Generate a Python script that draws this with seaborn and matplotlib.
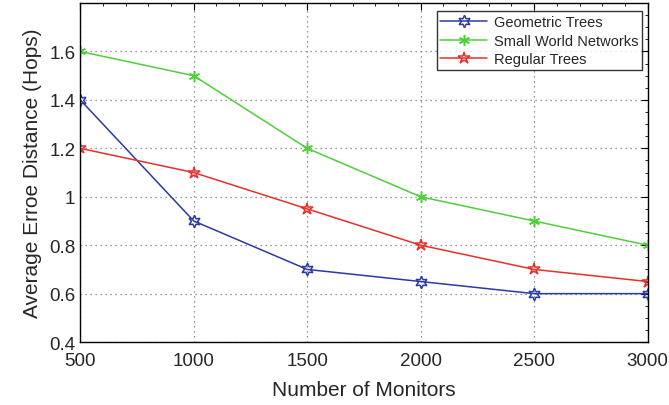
import matplotlib
matplotlib.use("Agg")
import matplotlib.pyplot as plt
import seaborn as sns
import pandas as pd
from matplotlib.ticker import MultipleLocator

monitors = [500, 1000, 1500, 2000, 2500, 3000]
geometric = [1.4, 0.9, 0.7, 0.65, 0.6, 0.6]
small_world = [1.6, 1.5, 1.2, 1.0, 0.9, 0.8]
regular = [1.2, 1.1, 0.95, 0.8, 0.7, 0.65]
series_names = ["Geometric Trees", "Small World Networks", "Regular Trees"]
y_ticks = [0.4, 0.6, 0.8, 1.0, 1.2, 1.4, 1.6]

sns.set_theme(style="white")
plt.rcParams['font.family'] = ['Liberation Sans', 'DejaVu Sans']

df = pd.DataFrame({
    "Monitors": monitors * 3,
    "Value": geometric + small_world + regular,
    "Series": [series_names[0]] * 6 + [series_names[1]] * 6 + [series_names[2]] * 6,
})

fig, ax = plt.subplots(figsize=(6.69, 4.06), dpi=100)
fig.subplots_adjust(left=0.12, right=0.968, top=0.99, bottom=0.155)

colors = {"Geometric Trees": "#2b3aa6", "Small World Networks": "#4fcf3a", "Regular Trees": "#e8302a"}
markers = {"Geometric Trees": (6, 1, 0), "Small World Networks": (6, 2, 0), "Regular Trees": "*"}
msizes = {"Geometric Trees": 9, "Small World Networks": 8, "Regular Trees": 9}

for name in series_names:
    sub = df[df["Series"] == name]
    sns.lineplot(data=sub, x="Monitors", y="Value", ax=ax, color=colors[name],
                 marker=markers[name], markersize=msizes[name], markerfacecolor="none",
                 markeredgecolor=colors[name], markeredgewidth=1.1, linewidth=1.1,
                 label=name)

ax.set_xlim(500, 3000)
ax.set_ylim(0.4, 1.8)
ax.set_xticks(monitors)
ax.set_xticklabels([str(m) for m in monitors])
ax.set_yticks(y_ticks)
ax.set_yticklabels(["0.4", "0.6", "0.8", "1", "1.2", "1.4", "1.6"])
ax.yaxis.set_minor_locator(MultipleLocator(0.05))
ax.xaxis.set_minor_locator(MultipleLocator(100))
ax.tick_params(which="both", direction="in", top=True, right=True, labelsize=13.5, color="black")
ax.tick_params(which="major", length=5, width=0.8)
ax.tick_params(which="minor", length=2.5, width=0.6)
ax.tick_params(axis="x", pad=7)
ax.grid(True, which="major", linestyle=(0, (1, 3)), color="#777777", linewidth=0.9)
for s in ax.spines.values():
    s.set_color("black")
    s.set_linewidth(1.0)

ax.set_xlabel("Number of Monitors", fontsize=15, labelpad=8)
ax.set_ylabel("Average Erroe Distance (Hops)", fontsize=15, labelpad=5)

leg = ax.legend(loc="upper right", fontsize=10.5, frameon=True, fancybox=False,
                edgecolor="black", borderpad=0.25, labelspacing=0.33, handlelength=3.2,
                handletextpad=0.5, borderaxespad=0, bbox_to_anchor=(0.991, 0.976))
leg.get_frame().set_linewidth(1.0)

fig.savefig("out.png", dpi=100)
